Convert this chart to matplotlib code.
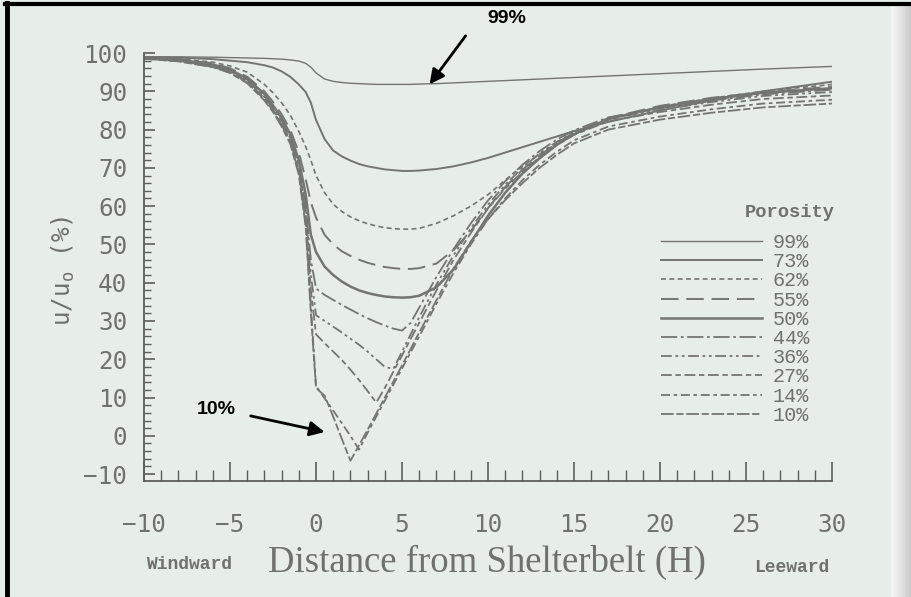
import matplotlib
matplotlib.use('Agg')
import matplotlib.pyplot as plt
import numpy as np
from matplotlib.lines import Line2D
from matplotlib.font_manager import FontProperties

# distance from shelterbelt (H), negative = windward side
dist = [-10, -8, -6, -5, -4, -3, -2.5, -2, -1.5, -1, -0.6, -0.3, 0, 0.5, 1, 1.5, 2, 2.5, 3, 3.5,
        4, 4.5, 5, 5.5, 6, 7, 8, 9, 10, 11, 12, 13, 14, 15, 17, 20, 23, 26, 30]

# u/u0 (%) for each porosity
p99 = [99.0, 99.0, 98.9, 98.8, 98.7, 98.6, 98.5, 98.4, 98.2, 97.9, 97.3, 96.3, 94.8, 93.2, 92.6, 92.3, 92.1, 92.0, 91.9, 91.8,
       91.8, 91.8, 91.8, 91.8, 91.9, 92.0, 92.2, 92.4, 92.6, 92.8, 93.0, 93.2, 93.4, 93.6, 94.0, 94.6, 95.2, 95.8, 96.5]
p73 = [99.0, 98.8, 98.4, 98.0, 97.6, 96.8, 96.2, 95.2, 93.8, 91.8, 89.8, 87.0, 82.5, 77.5, 74.5, 73.0, 71.9, 71.0, 70.4, 70.0,
       69.6, 69.4, 69.2, 69.2, 69.3, 69.7, 70.4, 71.4, 72.6, 74.0, 75.4, 76.8, 78.2, 79.6, 82.0, 85.0, 87.6, 90.0, 92.5]
p62 = [98.8, 98.5, 97.6, 96.6, 95.0, 91.8, 89.6, 87.0, 83.8, 79.5, 75.5, 72.0, 68.0, 63.5, 60.5, 58.6, 57.2, 56.2, 55.4, 54.8,
       54.4, 54.1, 54.0, 54.0, 54.2, 55.5, 57.5, 60.0, 63.0, 66.8, 70.4, 73.6, 76.4, 78.8, 82.5, 86.0, 88.2, 90.0, 91.8]
p55 = [98.8, 98.4, 97.3, 96.0, 93.8, 90.0, 87.2, 84.0, 80.0, 74.0, 67.0, 61.0, 57.0, 52.5, 50.0, 48.2, 47.0, 46.0, 45.2, 44.6,
       44.1, 43.8, 43.6, 43.6, 43.8, 45.0, 48.5, 53.5, 59.5, 65.0, 69.5, 73.2, 76.5, 79.2, 83.0, 86.2, 88.3, 89.8, 91.2]
p50 = [98.8, 98.3, 97.0, 95.7, 93.3, 89.3, 86.3, 83.0, 78.8, 72.0, 63.0, 52.5, 48.0, 44.2, 42.0, 40.3, 39.0, 38.0, 37.3, 36.8,
       36.4, 36.2, 36.1, 36.2, 36.6, 38.8, 43.5, 50.5, 57.5, 63.5, 68.5, 72.5, 76.0, 78.8, 82.8, 85.8, 88.0, 89.6, 90.8]
p44 = [98.7, 98.2, 96.8, 95.5, 93.0, 88.8, 85.8, 82.5, 78.2, 71.0, 60.0, 46.0, 38.5, 36.8, 35.5, 34.2, 33.0, 31.8, 30.7, 29.7,
       28.8, 28.0, 27.5, 29.5, 33.5, 41.5, 48.8, 55.5, 61.5, 66.5, 70.8, 74.4, 77.4, 79.8, 83.2, 85.6, 87.6, 89.2, 90.4]
p36 = [98.7, 98.1, 96.7, 95.3, 92.8, 88.5, 85.5, 82.0, 77.7, 70.2, 58.5, 42.0, 31.5, 30.0, 28.5, 27.0, 25.4, 23.8, 22.0, 20.0,
       18.0, 17.5, 22.0, 26.5, 31.0, 39.5, 47.2, 54.2, 60.4, 65.6, 70.0, 73.8, 76.8, 79.3, 82.8, 85.2, 87.2, 88.8, 89.8]
p27 = [98.6, 98.0, 96.5, 95.1, 92.5, 88.2, 85.2, 81.6, 77.3, 69.5, 57.0, 38.0, 26.5, 24.2, 22.0, 19.8, 17.3, 14.6, 11.7, 8.7,
       12.5, 16.8, 21.0, 25.3, 29.5, 38.0, 46.0, 53.0, 59.4, 64.6, 69.0, 72.8, 76.0, 78.6, 82.2, 84.6, 86.5, 88.0, 88.9]
p14 = [98.5, 97.9, 96.4, 94.9, 92.3, 87.9, 84.9, 81.2, 76.8, 68.8, 55.5, 34.0, 13.0, 9.8, 6.6, 3.3, 0.0, -3.6, 0.8, 5.0,
       9.2, 13.4, 17.6, 21.8, 26.0, 34.5, 42.6, 50.0, 56.6, 62.0, 66.8, 70.8, 74.2, 77.2, 80.8, 83.4, 85.3, 86.8, 87.8]
p10 = [98.5, 97.8, 96.3, 94.8, 92.1, 87.6, 84.6, 80.8, 76.3, 68.2, 54.5, 32.0, 12.5, 10.5, 5.0, -0.8, -6.5, -2.5, 1.6, 5.8,
       10.0, 14.2, 18.4, 22.7, 27.0, 35.4, 43.8, 50.8, 56.6, 61.6, 66.0, 70.0, 73.4, 76.4, 80.0, 82.6, 84.4, 85.8, 86.8]

porosity = ['99%', '73%', '62%', '55%', '50%', '44%', '36%', '27%', '14%', '10%']
series = [p99, p73, p62, p55, p50, p44, p36, p27, p14, p10]

styles = ['-', '-', (0, (3, 2)), (0, (9, 4)), '-', (0, (9, 2, 1.5, 2)),
          (0, (6, 2, 1.5, 2, 1.5, 2)), (0, (6, 2, 3, 2)), (0, (5, 2, 2, 2)), (0, (7, 1.5, 4, 1.5))]
widths = [1.0, 1.4, 1.2, 1.4, 1.8, 1.3, 1.3, 1.3, 1.3, 1.3]

bg = '#e7ede8'
ink = '#737573'
txt = '#6f716f'

plt.rcParams['mathtext.fontset'] = 'custom'
plt.rcParams['mathtext.rm'] = 'DejaVu Sans Mono'
plt.rcParams['mathtext.it'] = 'DejaVu Sans Mono'

fig = plt.figure(figsize=(9.11, 5.97), dpi=100, facecolor=bg)
ax = fig.add_axes([0.1581, 0.1943, 0.7552, 0.7169])
ax.set_facecolor(bg)

for vals, lab, ls, lw in zip(series, porosity, styles, widths):
    ax.plot(dist, vals, color=ink, ls=ls, lw=lw, label=lab)

ax.set_xlim(-10, 30)
ax.set_ylim(-11.8, 100)
ax.set_xticks(np.arange(-10, 31, 5))
ax.set_xticks(np.arange(-10, 31, 1), minor=True)
ax.set_yticks(np.arange(-10, 101, 10))
ax.set_yticks(np.arange(-10, 101, 2), minor=True)

for s in ['top', 'right']:
    ax.spines[s].set_visible(False)
for s in ['left', 'bottom']:
    ax.spines[s].set_color('#5c5e5c')
    ax.spines[s].set_linewidth(1.3)

mono = 'DejaVu Sans Mono'
ax.tick_params(axis='x', which='major', direction='in', length=14, width=1.2, color='#5c5e5c', pad=23)
ax.tick_params(axis='x', which='minor', direction='in', length=8, width=1.0, color='#5c5e5c')
ax.tick_params(axis='y', which='major', direction='in', length=8, width=1.2, color='#5c5e5c', pad=12)
ax.tick_params(axis='y', which='minor', direction='in', length=5, width=1.0, color='#5c5e5c')
for t in ax.get_xticklabels() + ax.get_yticklabels():
    t.set_fontfamily(mono)
    t.set_fontsize(17.5)
    t.set_color(txt)

ax.set_ylabel(r'u/u$_\mathrm{o}$ (%)', family=mono, fontsize=17.5, color=txt)
ax.yaxis.set_label_coords(-0.097, 0.49)

fig.text(0.535, 0.058, 'Distance from Shelterbelt (H)', family='Liberation Serif', fontsize=26.5,
         color=txt, ha='center', va='center')
fig.text(0.207, 0.054, 'Windward', family='Liberation Mono', fontsize=13, weight='bold',
         color=txt, ha='center', va='center')
fig.text(0.869, 0.049, 'Leeward', family='Liberation Mono', fontsize=13, weight='bold',
         color=txt, ha='center', va='center')

leg = ax.legend(loc='upper left', bbox_to_anchor=(651 / 911, 1 - 223 / 597), bbox_transform=fig.transFigure,
                frameon=False, prop=FontProperties(family='Liberation Mono', size=14.5),
                handlelength=5.0, handletextpad=0.55, labelspacing=0.01, borderpad=0)
for t in leg.get_texts():
    t.set_color(txt)
fig.text(835 / 911, 1 - 212 / 597, 'Porosity', family='Liberation Mono', fontsize=13.5, weight='bold',
         color=txt, ha='right', va='center')

# callouts
arrow = dict(arrowstyle='-|>', color='black', lw=2, mutation_scale=22, shrinkA=0, shrinkB=0)
ax.annotate('', xy=(6.6, 91.8), xytext=(8.7, 104.5), arrowprops=arrow, annotation_clip=False)
ax.text(11.1, 109.0, '99%', family='Liberation Sans', weight='bold', fontsize=14, color='black',
        ha='center', va='center', clip_on=False)
ax.annotate('', xy=(0.5, 1.0), xytext=(-3.8, 5.2), arrowprops=arrow, annotation_clip=False)
ax.text(-5.8, 6.8, '10%', family='Liberation Sans', weight='bold', fontsize=14, color='black',
        ha='center', va='center')

# scan frame
fig.add_artist(Line2D([0.0075, 0.0075], [0, 0.995], transform=fig.transFigure, color='black', lw=3.5))
fig.add_artist(Line2D([0.0055, 1], [0.993, 0.993], transform=fig.transFigure, color='black', lw=3))
edge = fig.add_axes([0.978, 0, 0.022, 0.99])
edge.imshow(np.linspace(0, 1, 50)[None, :], aspect='auto', cmap='Greys', vmin=-0.3, vmax=3.5, alpha=0.9)
edge.axis('off')

fig.savefig('out.png', dpi=100, facecolor=bg)
